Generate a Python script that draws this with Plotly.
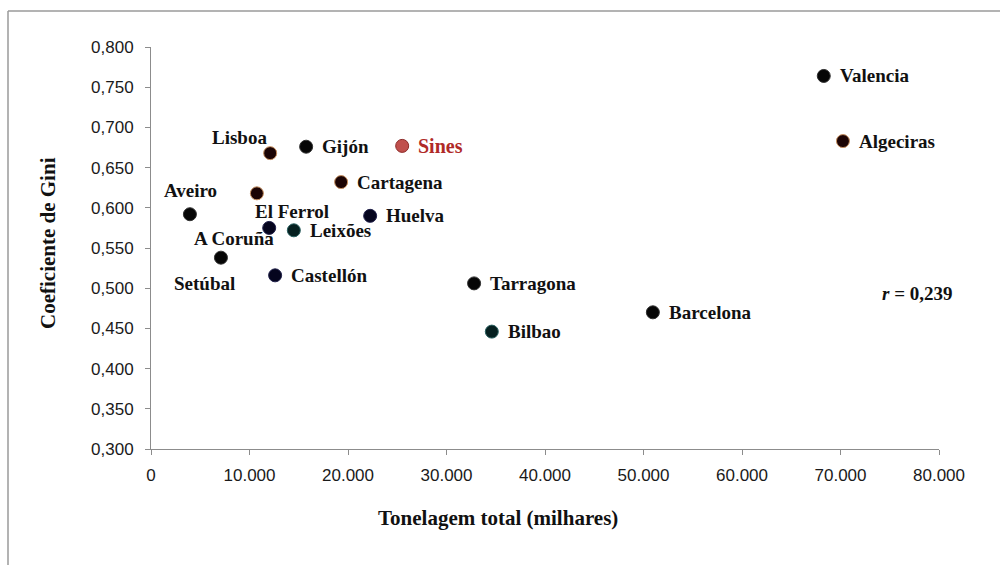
import plotly.graph_objects as go

# ---- data ----
ports = ["Valencia", "Algeciras", "Lisboa", "Gijón", "Sines", "Cartagena",
         "El Ferrol", "Aveiro", "A Coruña", "Leixões", "Huelva", "Setúbal",
         "Castellón", "Tarragona", "Bilbao", "Barcelona"]
tonnage = [68300, 70250, 12100, 15750, 25500, 19300,
           10750, 3950, 12000, 14500, 22250, 7100,
           12600, 32800, 34600, 50950]
gini = [0.764, 0.683, 0.668, 0.676, 0.677, 0.632,
        0.618, 0.592, 0.575, 0.572, 0.590, 0.538,
        0.516, 0.506, 0.446, 0.470]
x_ticks = [0, 10000, 20000, 30000, 40000, 50000, 60000, 70000, 80000]
y_ticks = [0.300, 0.350, 0.400, 0.450, 0.500, 0.550, 0.600, 0.650, 0.700, 0.750, 0.800]
r_text = "<i>r</i> = 0,239"

# ---- styles ----
BROWN = ("#1c0404", "#c89060")
BLACK = ("#060606", "#303030")
NAVY = ("#05051e", "#20204a")
TEAL = ("#062020", "#2a6060")
SINES = ("#c0504d", "#8c2a28")
styles = [BLACK, BROWN, BROWN, BLACK, SINES, BROWN,
          BROWN, BLACK, NAVY, TEAL, NAVY, BLACK,
          NAVY, BLACK, TEAL, BLACK]
# label placement: (xanchor, yanchor, xshift, yshift)
label_pos = {
    "Lisboa": ("right", "middle", -1, 16),
    "Aveiro": ("center", "middle", 1, 24),
    "El Ferrol": ("left", "middle", -4, -18),
    "A Coruña": ("right", "middle", 7, -11),
    "Setúbal": ("center", "middle", -16, -26),
}
default_pos = ("left", "middle", 14, 0)

L, R, T, B = 151, 61, 47, 116
W, H = 1000, 565
pw, ph = W - L - R, H - T - B

fig = go.Figure()
fig.add_trace(go.Scatter(
    x=tonnage, y=gini, mode="markers",
    marker=dict(size=13, color=[s[0] for s in styles],
                line=dict(color=[s[1] for s in styles], width=1)),
    hovertext=ports, showlegend=False, cliponaxis=False,
))

serif = "Liberation Serif, Times New Roman, serif"
for p, xv, yv in zip(ports, tonnage, gini):
    xa, ya, xs, ys = label_pos.get(p, default_pos)
    is_sines = p == "Sines"
    fig.add_annotation(
        x=xv, y=yv, xref="x", yref="y", text="<b>%s</b>" % p, showarrow=False,
        xanchor=xa, yanchor=ya, xshift=xs, yshift=ys,
        font=dict(family=serif, size=20 if is_sines else 19,
                  color="#b02a28" if is_sines else "#111111"),
    )

fig.add_annotation(x=(880 - L) / pw, y=(449 - 293) / ph, xref="paper", yref="paper",
                   text="<b>%s</b>" % r_text, showarrow=False, xanchor="left", yanchor="middle",
                   font=dict(family=serif, size=19, color="#111111"))
fig.add_annotation(x=(498 - L) / pw, y=(449 - 518) / ph, xref="paper", yref="paper",
                   text="<b>Tonelagem total (milhares)</b>", showarrow=False,
                   xanchor="center", yanchor="middle",
                   font=dict(family=serif, size=21, color="#111111"))
fig.add_annotation(x=(48 - L) / pw, y=(449 - 243) / ph, xref="paper", yref="paper",
                   text="<b>Coeficiente de Gini</b>", showarrow=False, textangle=-90,
                   xanchor="center", yanchor="middle",
                   font=dict(family=serif, size=21, color="#111111"))

# outer frame (left and top edges visible)
fig.add_shape(type="line", xref="paper", yref="paper",
              x0=(8 - L) / pw, x1=(8 - L) / pw, y0=(449 - 11) / ph, y1=(449 - 570) / ph,
              line=dict(color="#9a9a9a", width=1.5))
fig.add_shape(type="line", xref="paper", yref="paper",
              x0=(8 - L) / pw, x1=(1005 - L) / pw, y0=(449 - 11) / ph, y1=(449 - 11) / ph,
              line=dict(color="#9a9a9a", width=1.5))

axis_common = dict(showgrid=False, zeroline=False, showline=True, linecolor="#8c8c8c",
                   linewidth=1, ticks="outside", ticklen=5, tickcolor="#8c8c8c",
                   tickfont=dict(family="Liberation Sans, Arial, sans-serif", size=17,
                                 color="#1a1a1a"))
fig.update_xaxes(range=[0, 80000], tickvals=x_ticks, tickformat=",d",
                 ticklabelstandoff=6, **axis_common)
fig.update_yaxes(range=[0.3, 0.8], tickvals=y_ticks, tickformat=".3f",
                 ticklabelstandoff=8, **axis_common)

fig.update_layout(width=W, height=H, margin=dict(l=L, r=R, t=T, b=B, autoexpand=False),
                  paper_bgcolor="white", plot_bgcolor="white", separators=",.")

fig.write_html("out.html", config={"displayModeBar": False},
               post_script="document.body.style.margin='0px';document.body.style.overflow='hidden';")
